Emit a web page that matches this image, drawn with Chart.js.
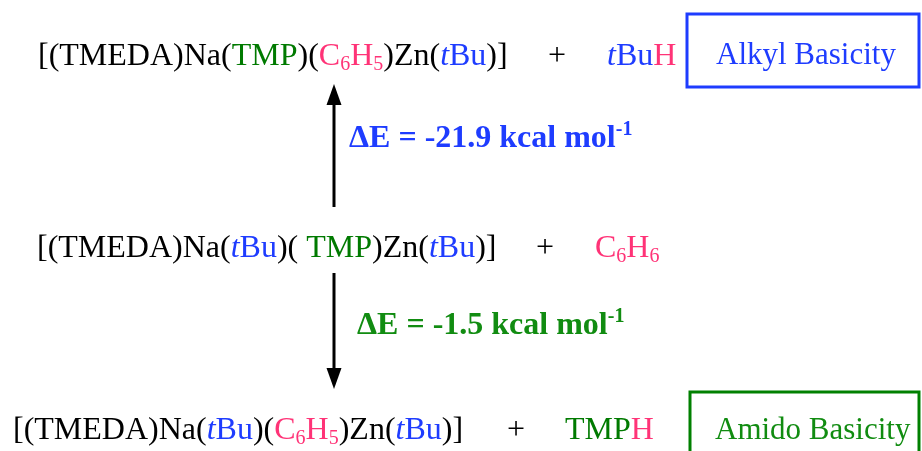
<!DOCTYPE html>
<html>
<head>
<meta charset="utf-8">
<script src="https://cdn.jsdelivr.net/npm/chart.js@4"></script>
<style>
  html, body { margin: 0; padding: 0; background: #fff; }
  #wrap { width: 922px; height: 451px; }
</style>
</head>
<body>
<div id="wrap"><canvas id="scheme" width="922" height="451"></canvas></div>
<script>
// species as text runs: [text, role, kind]
const topSpecies = [['[(TMEDA)Na(', ''], ['TMP', 'amide'], [')(', ''], ['C', 'aryl'], ['6', 'aryl', 'sub'], ['H', 'aryl'], ['5', 'aryl', 'sub'], [')Zn(', ''], ['t', 'alkyl', 'it'], ['Bu', 'alkyl'], [')]', '']];
const topProduct = [['t', 'alkyl', 'it'], ['Bu', 'alkyl'], ['H', 'proton']];
const midSpecies = [['[(TMEDA)Na(', ''], ['t', 'alkyl', 'it'], ['Bu', 'alkyl'], [')( ', ''], ['TMP', 'amide'], [')Zn(', ''], ['t', 'alkyl', 'it'], ['Bu', 'alkyl'], [')]', '']];
const midProduct = [['C', 'aryl'], ['6', 'aryl', 'sub'], ['H', 'aryl'], ['6', 'aryl', 'sub']];
const lowSpecies = [['[(TMEDA)Na(', ''], ['t', 'alkyl', 'it'], ['Bu', 'alkyl'], [')(', ''], ['C', 'aryl'], ['6', 'aryl', 'sub'], ['H', 'aryl'], ['5', 'aryl', 'sub'], [')Zn(', ''], ['t', 'alkyl', 'it'], ['Bu', 'alkyl'], [')]', '']];
const lowProduct = [['TMP', 'amide'], ['H', 'proton']];

const deltaE = [-21.9, -1.5];
const basicity = ['Alkyl Basicity', 'Amido Basicity'];

// colours and layout (page units, same as the canvas)
const roleColor = { '': '#000', amide: 'rgb(0,122,0)', aryl: 'rgb(255,51,119)', alkyl: 'rgb(30,60,255)', proton: 'rgb(255,51,119)' };
const energyColor = ['rgb(30,60,255)', 'rgb(17,140,17)'];
const boxColor = ['rgb(30,60,255)', 'rgb(0,128,0)'];
const serif = "'Liberation Serif', 'Times New Roman', serif";
const size = 32;

const rows = [
  { runs: topSpecies, x: 38, y: 65, plusX: 557, prod: topProduct, prodX: 607 },
  { runs: midSpecies, x: 37, y: 257, plusX: 545, prod: midProduct, prodX: 595 },
  { runs: lowSpecies, x: 13, y: 439, plusX: 516, prod: lowProduct, prodX: 565 }
];
const energyPos = [{ x: 349, y: 147 }, { x: 357, y: 334 }];
const boxes = [
  { x0: 687, y0: 14, x1: 919, y1: 87, tx: 716, ty: 64 },
  { x0: 690, y0: 392, x1: 919, y1: 470, tx: 715, ty: 439 }
];
const arrows = [
  [{ x: 334, y: 207 }, { x: 334, y: 84 }],
  [{ x: 334, y: 273 }, { x: 334, y: 389 }]
];
const headLen = 21, headHalf = 7.5;

function drawRuns(ctx, x, y, runs, bold, fsize) {
  runs.forEach(([t, role, kind]) => {
    const small = kind === 'sub' || kind === 'sup';
    const fs = small ? Math.round(fsize * 0.64) : fsize;
    ctx.font = (kind === 'it' ? 'italic ' : '') + (bold ? 'bold ' : '') + fs + 'px ' + serif;
    ctx.fillStyle = roleColor[role] || role;
    const dy = kind === 'sub' ? fsize * 0.16 : kind === 'sup' ? -fsize * 0.38 : 0;
    ctx.fillText(t, x, y + dy);
    x += ctx.measureText(t).width;
  });
}

const schemePlugin = {
  id: 'scheme',
  afterDatasetsDraw(chart) {
    const ctx = chart.ctx;
    const sx = chart.scales.x, sy = chart.scales.y;
    const px = v => sx.getPixelForValue(v), py = v => sy.getPixelForValue(v);
    ctx.save();
    ctx.textBaseline = 'alphabetic';

    // arrow heads at the tip of each step
    arrows.forEach(pts => {
      const a = pts[0], b = pts[pts.length - 1];
      const ang = Math.atan2(py(b.y) - py(a.y), px(b.x) - px(a.x));
      ctx.save();
      ctx.translate(px(b.x), py(b.y));
      ctx.rotate(ang);
      ctx.beginPath();
      ctx.moveTo(0, 0);
      ctx.lineTo(-headLen, -headHalf);
      ctx.lineTo(-headLen, headHalf);
      ctx.closePath();
      ctx.fillStyle = '#000';
      ctx.fill();
      ctx.restore();
    });

    // species rows
    rows.forEach(r => {
      drawRuns(ctx, px(r.x), py(r.y), r.runs, false, size);
      ctx.font = size + 'px ' + serif;
      ctx.fillStyle = '#000';
      ctx.textAlign = 'center';
      ctx.fillText('+', px(r.plusX), py(r.y));
      ctx.textAlign = 'left';
      drawRuns(ctx, px(r.prodX), py(r.y), r.prod, false, size);
    });

    // reaction energies
    deltaE.forEach((v, i) => {
      const c = energyColor[i];
      drawRuns(ctx, px(energyPos[i].x), py(energyPos[i].y),
        [['\u0394E = ' + v.toFixed(1) + ' kcal mol', c], ['-1', c, 'sup']], true, size);
    });

    // basicity boxes
    basicity.forEach((label, i) => {
      const b = boxes[i];
      ctx.strokeStyle = boxColor[i];
      ctx.lineWidth = 3;
      ctx.strokeRect(px(b.x0), py(b.y0), px(b.x1) - px(b.x0), py(b.y1) - py(b.y0));
      ctx.font = '31px ' + serif;
      ctx.fillStyle = energyColor[i];
      ctx.fillText(label, px(b.tx), py(b.ty));
    });
    ctx.restore();
  }
};

new Chart(document.getElementById('scheme'), {
  type: 'scatter',
  data: {
    // arrow shafts stop inside the head so the tip stays sharp
    datasets: arrows.map((pts, i) => ({
      label: 'step ' + (i + 1),
      data: pts.map((p, j) => j === pts.length - 1
        ? { x: p.x, y: p.y + (pts[0].y > p.y ? 10 : -10) } : p),
      showLine: true,
      borderColor: '#000',
      borderWidth: 3,
      pointRadius: 0,
      fill: false
    }))
  },
  options: {
    responsive: false,
    animation: false,
    events: [],
    layout: { padding: 0 },
    scales: {
      x: { type: 'linear', min: 0, max: 922, display: false },
      y: { type: 'linear', min: 0, max: 451, reverse: true, display: false }
    },
    plugins: {
      legend: { display: false },
      tooltip: { enabled: false }
    }
  },
  plugins: [schemePlugin]
});
</script>
</body>
</html>
